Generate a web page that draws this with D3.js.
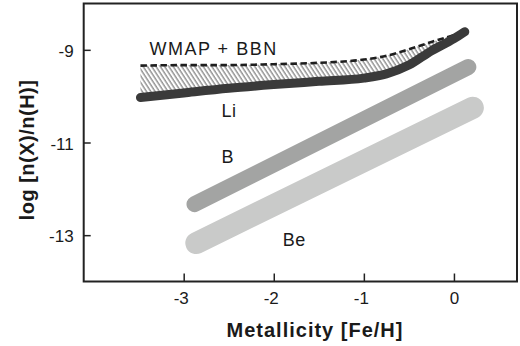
<!DOCTYPE html>
<html>
<head>
<meta charset="utf-8">
<script src="https://cdn.jsdelivr.net/npm/d3@7.9.0/dist/d3.min.js"></script>
<style>
  html, body { margin: 0; padding: 0; background: #fff; }
  svg { display: block; font-family: "Liberation Sans", Arial, Helvetica, sans-serif; }
</style>
</head>
<body>
<svg id="chart" width="520" height="346"></svg>
<script>
// curve sample points [Fe/H]
const metallicity = [-3.48, -3.0, -2.5, -2.0, -1.5, -1.0, -0.75, -0.5, -0.25, 0.0, 0.12];
// Li abundance track (thick dark line)
const liValues = [-10.03, -9.93, -9.83, -9.75, -9.68, -9.61, -9.52, -9.33, -9.02, -8.76, -8.61];
// WMAP + BBN upper bound (dashed)
const wmapValues = [-9.34, -9.33, -9.33, -9.31, -9.28, -9.21, -9.13, -8.99, -8.83, -8.68, -8.60];

// B and Be bands (start / end)
const bMetal = [-2.88, 0.16];
const bValues = [-12.33, -9.37];
const beMetal = [-2.86, 0.21];
const beValues = [-13.17, -10.25];

const xTicks = [-3, -2, -1, 0];
const xTickLabels = ['-3', '-2', '-1', '0'];
const yTicks = [-9, -11, -13];
const yTickLabels = ['-9', '-11', '-13'];

const labels = [
  { text: 'WMAP + BBN', x: -3.38, y: -9.11 },
  { text: 'Li', x: -2.58, y: -10.46 },
  { text: 'B', x: -2.58, y: -11.45 },
  { text: 'Be', x: -1.9, y: -13.24 }
];

const svg = d3.select('#chart');
const m = { left: 83.7, right: 517, top: 3.5, bottom: 281.5 };

const x = d3.scaleLinear().domain([-4.11, 0.7]).range([m.left, m.right]);
const y = d3.scaleLinear().domain([-14, -8]).range([m.bottom, m.top]);

// hatch pattern
const defs = svg.append('defs');
const pat = defs.append('pattern')
  .attr('id', 'hatch')
  .attr('patternUnits', 'userSpaceOnUse')
  .attr('width', 3.6)
  .attr('height', 10)
  .attr('patternTransform', 'rotate(-33)');
pat.append('line')
  .attr('x1', 1).attr('y1', 0).attr('x2', 1).attr('y2', 10)
  .attr('stroke', '#444').attr('stroke-width', 0.9);

const pts = metallicity.map((v, i) => ({ m: v, li: liValues[i], w: wmapValues[i] }));

const area = d3.area()
  .x(d => x(d.m))
  .y0(d => y(d.li))
  .y1(d => y(d.w))
  .curve(d3.curveMonotoneX);

svg.append('path')
  .attr('d', area(pts))
  .attr('fill', 'url(#hatch)');

// dashed WMAP line
const wmapLine = d3.line().x(d => x(d.m)).y(d => y(d.w)).curve(d3.curveMonotoneX);
svg.append('path')
  .attr('d', wmapLine(pts))
  .attr('fill', 'none')
  .attr('stroke', '#1e1e1e')
  .attr('stroke-width', 2.6)
  .attr('stroke-dasharray', '6.5,3.5');

// bands
const band = d3.line().x(d => x(d[0])).y(d => y(d[1]));
svg.append('path')
  .attr('d', band(beMetal.map((v, i) => [v, beValues[i]])))
  .attr('fill', 'none')
  .attr('stroke', '#c9cac9')
  .attr('stroke-width', 22)
  .attr('stroke-linecap', 'round');

svg.append('path')
  .attr('d', band(bMetal.map((v, i) => [v, bValues[i]])))
  .attr('fill', 'none')
  .attr('stroke', '#a3a4a3')
  .attr('stroke-width', 16)
  .attr('stroke-linecap', 'round');

// Li line
const liLine = d3.line().x(d => x(d.m)).y(d => y(d.li)).curve(d3.curveMonotoneX);
svg.append('path')
  .attr('d', liLine(pts))
  .attr('fill', 'none')
  .attr('stroke', '#3a3a3a')
  .attr('stroke-width', 9)
  .attr('stroke-linecap', 'round');

// text labels
svg.selectAll('text.lbl')
  .data(labels)
  .join('text')
  .attr('class', 'lbl')
  .attr('x', d => x(d.x))
  .attr('y', d => y(d.y))
  .attr('font-size', 18)
  .attr('letter-spacing', d => d.text.length > 3 ? 1.5 : 0.5)
  .attr('fill', '#1a1a1a')
  .text(d => d.text);

// axes (ticks pointing inward)
const xAxis = d3.axisBottom(x)
  .tickValues(xTicks)
  .tickFormat((d, i) => xTickLabels[i])
  .tickSizeInner(-8).tickSizeOuter(0).tickPadding(10.5);
const gx = svg.append('g').attr('transform', `translate(0,${m.bottom})`).call(xAxis);

const yAxis = d3.axisLeft(y)
  .tickValues(yTicks)
  .tickFormat((d, i) => yTickLabels[i])
  .tickSizeInner(-7).tickSizeOuter(0).tickPadding(10);
const gy = svg.append('g').attr('transform', `translate(${m.left},0)`).call(yAxis);

[gx, gy].forEach(g => {
  g.select('.domain').remove();
  g.selectAll('.tick line').attr('stroke', '#222').attr('stroke-width', 1.5);
  g.selectAll('.tick text')
    .attr('font-size', 17)
    .attr('font-family', '"Liberation Sans", Arial, sans-serif')
    .attr('fill', '#1a1a1a');
});
gx.selectAll('.tick text').attr('dx', d => d < 0 ? -3 : 0);
gy.selectAll('.tick text').attr('dy', '0.4em');

// frame
svg.append('rect')
  .attr('x', m.left).attr('y', m.top)
  .attr('width', m.right - m.left).attr('height', m.bottom - m.top)
  .attr('fill', 'none')
  .attr('stroke', '#222')
  .attr('stroke-width', 2);

// axis titles
svg.append('text')
  .attr('x', 315).attr('y', 337)
  .attr('text-anchor', 'middle')
  .attr('font-size', 20)
  .attr('font-weight', 'bold')
  .attr('letter-spacing', 1)
  .attr('fill', '#1a1a1a')
  .text('Metallicity [Fe/H]');

svg.append('text')
  .attr('transform', 'translate(34,150) rotate(-90)')
  .attr('text-anchor', 'middle')
  .attr('font-size', 20)
  .attr('font-weight', 'bold')
  .attr('letter-spacing', 0.5)
  .attr('fill', '#1a1a1a')
  .text('log [n(X)/n(H)]');
</script>
</body>
</html>
